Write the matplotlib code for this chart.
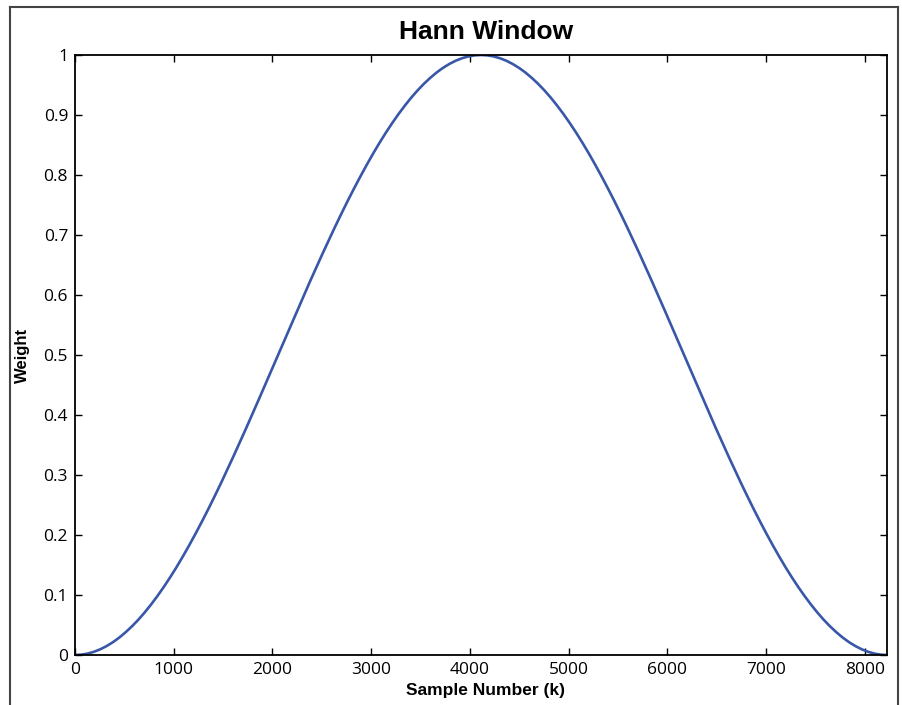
import numpy as np
import matplotlib.pyplot as plt
from matplotlib.lines import Line2D

# ------------------------------------------------------------
# Hann window, values (129 points)
# ------------------------------------------------------------
n_muestras = 8224
peso_subida = [0.0000, 0.0006, 0.0024, 0.0054, 0.0096, 0.0150, 0.0215, 0.0292,
               0.0381, 0.0480, 0.0590, 0.0711, 0.0843, 0.0984, 0.1135, 0.1295,
               0.1464, 0.1642, 0.1828, 0.2022, 0.2222, 0.2429, 0.2643, 0.2862,
               0.3087, 0.3316, 0.3549, 0.3785, 0.4025, 0.4266, 0.4510, 0.4755,
               0.5000, 0.5245, 0.5490, 0.5734, 0.5975, 0.6215, 0.6451, 0.6684,
               0.6913, 0.7138, 0.7357, 0.7571, 0.7778, 0.7978, 0.8172, 0.8358,
               0.8536, 0.8705, 0.8865, 0.9016, 0.9157, 0.9289, 0.9410, 0.9520,
               0.9619, 0.9708, 0.9785, 0.9850, 0.9904, 0.9946, 0.9976, 0.9994,
               1.0000]
peso_bajada = [0.9994, 0.9976, 0.9946, 0.9904, 0.9850, 0.9785, 0.9708, 0.9619,
               0.9520, 0.9410, 0.9289, 0.9157, 0.9016, 0.8865, 0.8705, 0.8536,
               0.8358, 0.8172, 0.7978, 0.7778, 0.7571, 0.7357, 0.7138, 0.6913,
               0.6684, 0.6451, 0.6215, 0.5975, 0.5734, 0.5490, 0.5245, 0.5000,
               0.4755, 0.4510, 0.4266, 0.4025, 0.3785, 0.3549, 0.3316, 0.3087,
               0.2862, 0.2643, 0.2429, 0.2222, 0.2022, 0.1828, 0.1642, 0.1464,
               0.1295, 0.1135, 0.0984, 0.0843, 0.0711, 0.0590, 0.0480, 0.0381,
               0.0292, 0.0215, 0.0150, 0.0096, 0.0054, 0.0024, 0.0006, 0.0000]
pesos = peso_subida + peso_bajada
muestras = np.linspace(0, n_muestras, len(pesos))

x_ticks = [0, 1000, 2000, 3000, 4000, 5000, 6000, 7000, 8000]
y_ticks = [0, 0.1, 0.2, 0.3, 0.4, 0.5, 0.6, 0.7, 0.8, 0.9, 1]
y_labels = ["0", "0.1", "0.2", "0.3", "0.4", "0.5", "0.6", "0.7", "0.8", "0.9", "1"]

fig = plt.figure(figsize=(9.02, 7.05), dpi=100)
ax = fig.add_axes([75 / 902, 1 - 655 / 705, (887 - 75) / 902, (655 - 55) / 705])

ax.plot(muestras, pesos, color="#3857a8", linewidth=1.9)

ax.set_xlim(0, n_muestras)
ax.set_ylim(0, 1)
ax.set_xticks(x_ticks)
ax.set_xticklabels([str(t) for t in x_ticks])
ax.set_yticks(y_ticks)
ax.set_yticklabels(y_labels)

ax.tick_params(direction="in", length=5, width=1.0, top=True, right=True,
               labelsize=12.5, pad=5)
for lbl in ax.get_xticklabels() + ax.get_yticklabels():
    lbl.set_family("Open Sans")
for s in ax.spines.values():
    s.set_linewidth(1.3)

# titulo y etiquetas, en coordenadas de figura
fig.text(486 / 902, 1 - 32 / 705, "Hann Window", fontsize=19, fontweight="bold",
         family="Liberation Sans", ha="center", va="center")
fig.text(486 / 902, 1 - 691 / 705, "Sample Number (k)", fontsize=12.5, fontweight="bold",
         family="Liberation Sans", ha="center", va="center")
fig.text(22 / 902, 1 - 355 / 705, "Weight", fontsize=12, fontweight="bold",
         family="Liberation Sans", ha="center", va="center", rotation=90)

# marco exterior de la figura
x0, x1 = 10 / 902, 898 / 902
y_top = 1 - 7 / 705
for xs, ys in [([x0, x1], [y_top, y_top]), ([x0, x0], [y_top, 0]), ([x1, x1], [y_top, 0])]:
    fig.add_artist(Line2D(xs, ys, color="#444444", linewidth=1.5, transform=fig.transFigure))

fig.savefig("out.png", dpi=100)
